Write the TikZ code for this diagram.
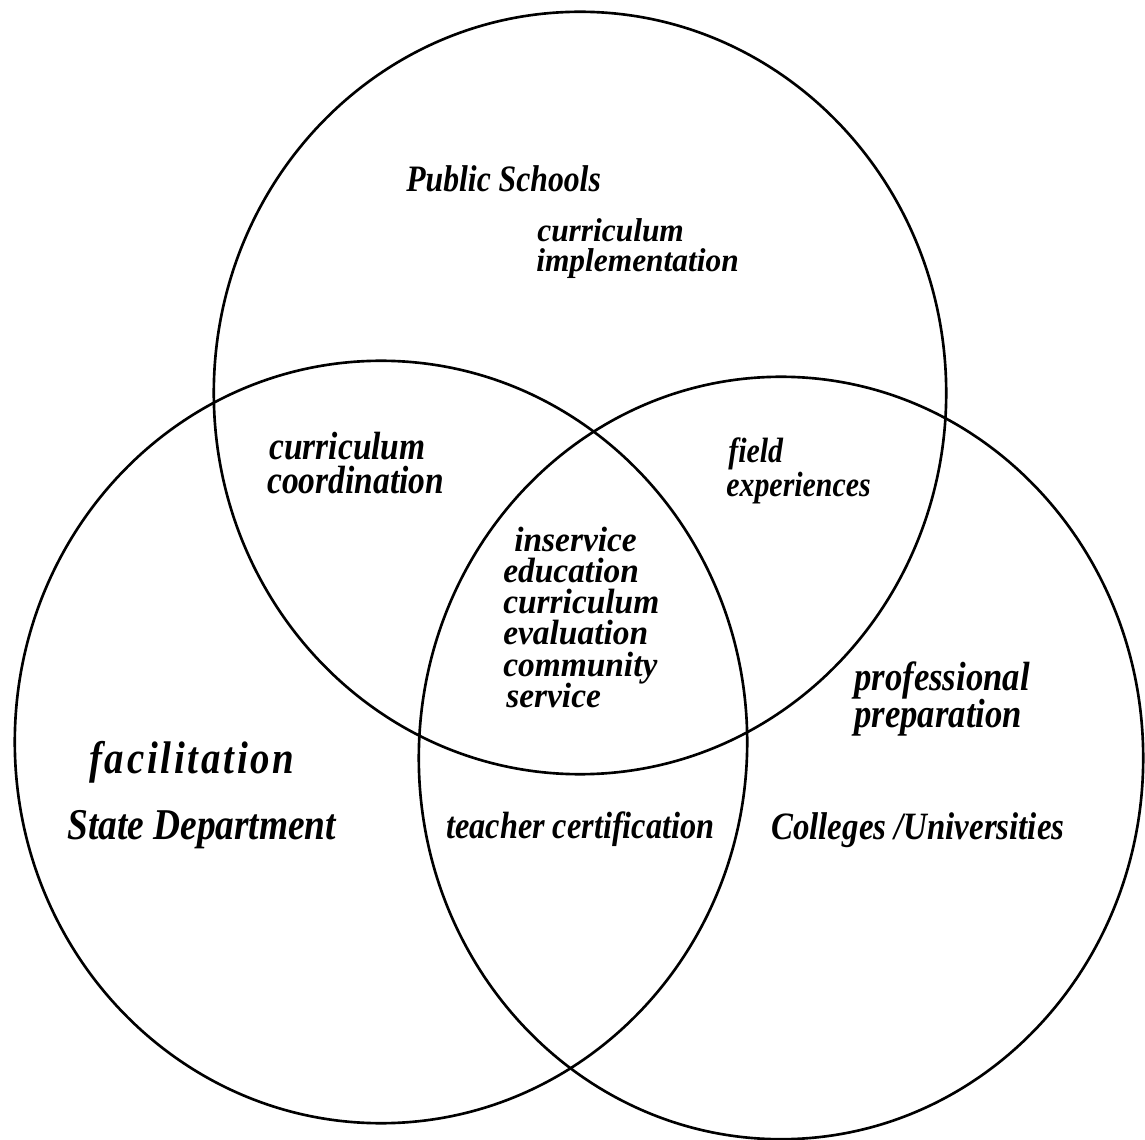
\documentclass[tikz,border=0pt]{standalone}
\usepackage{fontspec}
\newfontfamily\handfont[FakeStretch=0.85]{Liberation Serif}
\newfontfamily\handwide[FakeStretch=0.95]{Liberation Serif}
\usetikzlibrary{positioning}

\begin{document}
\begin{tikzpicture}
		[
		x=0.01cm, y=-0.01cm,
		line width=0.75pt
		]
		
		% Styles: the three rings and the hand lettered texts
		\tikzstyle{ring}=[draw,line width=0.75pt];
		\tikzset{lettering/.style={anchor=base west,inner sep=0pt,
			font=\handfont\bfseries\itshape\fontsize{#1}{#1}\selectfont}}
		\tikzset{wide lettering/.style={anchor=base west,inner sep=0pt,
			font=\handwide\bfseries\itshape\fontsize{#1}{#1}\selectfont}}
		
		% Page
		\fill[white](0,0)rectangle(1145,1140);
		\useasboundingbox(0,0)rectangle(1145,1140);
		
		% Centres of the rings
		\coordinate(schools)at(580,393);
		\coordinate(state)at(381,742);
		\coordinate(colleges)at(781,758);
		
		% The rings
		\draw[ring](schools)ellipse[x radius=3.66cm,y radius=3.81cm];
		\draw[ring](state)ellipse[x radius=3.66cm,y radius=3.81cm];
		\draw[ring](colleges)ellipse[x radius=3.62cm,y radius=3.81cm];
		
		% Public schools
		\node(ps)[lettering=10.6]at(405,192){Public Schools};
		\node(impl1)[wide lettering=9.4]at(536,242){curriculum};
		\node(impl2)[wide lettering=9.4]at(535,272){implementation};
		
		% Public schools and state department
		\node(coord1)[lettering=11.2]at(268,460){curriculum};
		\node(coord2)[lettering=11.2]at(266,494){coordination};
		
		% Public schools and colleges
		\node(field1)[lettering=10]at(727,463){field};
		\node(field2)[lettering=10]at(725,497){experiences};
		
		% All three
		\foreach \w/\x/\y [count=\i] in {inservice/513/552, education/502/583,
			curriculum/502/614, evaluation/502/645, community/502/676, service/505/708}
			\node(core\i)[wide lettering=10]at(\x,\y){\w};
		
		% Colleges
		\node(prof1)[lettering=11.6]at(853,691){professional};
		\node(prof2)[lettering=11.6]at(853,728){preparation};
		\node(cu)[lettering=11]at(770,840){Colleges /Universities};
		
		% State department
		\node(facil)[lettering=13]at(88,773){\addfontfeature{LetterSpace=6}facilitation};
		\node(sd)[lettering=12.5]at(66,840){State Department};
		
		% State department and colleges
		\node(tc)[lettering=10.8]at(445,838){teacher certification};
		
\end{tikzpicture}
\end{document}
